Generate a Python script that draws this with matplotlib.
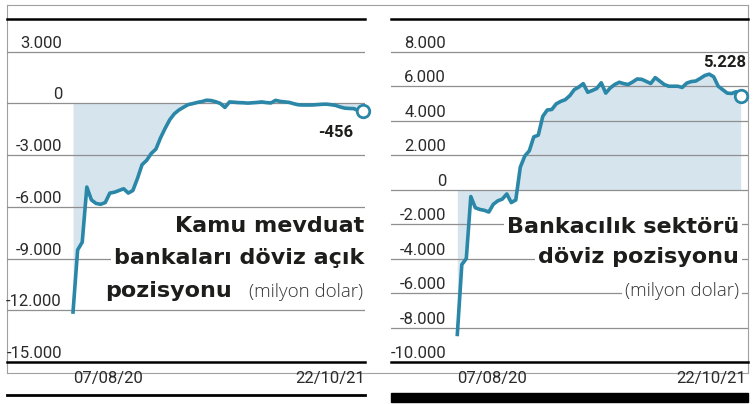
import pandas as pd
import matplotlib
matplotlib.use("Agg")
from matplotlib import pyplot as plt
from matplotlib.lines import Line2D
from matplotlib.patches import Rectangle
import matplotlib.transforms as mtransforms

# weekly data, 07/08/2020 - 22/10/2021 (milyon dolar)
dates = pd.date_range("2020-08-07", "2021-10-22", freq="7D")

kamu = [-12100, -8500, -8050, -4850, -5600, -5800, -5850, -5750, -5200, -5150,
        -5050, -4950, -5200, -5050, -4350, -3550, -3300, -2900, -2650, -2000,
        -1450, -950, -600, -380, -220, -70, -10, 60, 110, 190,
        170, 100, 0, -230, 90, 70, 50, 40, 20, 40,
        60, 90, 50, 30, 180, 120, 90, 60, -20, -80,
        -90, -90, -90, -70, -50, -40, -70, -110, -200, -270,
        -290, -300, -420, -456]

sektor = [-8400, -4350, -4000, -400, -1050, -1150, -1200, -1300, -850, -650,
          -550, -250, -750, -600, 1300, 1950, 2250, 3060, 3160, 4250,
          4620, 4650, 4980, 5120, 5220, 5450, 5800, 5950, 6150, 5650,
          5750, 5870, 6200, 5600, 5900, 6100, 6230, 6150, 6100, 6250,
          6420, 6400, 6280, 6160, 6500, 6300, 6100, 6000, 6000, 6000,
          5930, 6180, 6270, 6300, 6450, 6620, 6700, 6550, 6000, 5800,
          5600, 5580, 5680, 5430]

kamu_ticks = [3000, 0, -3000, -6000, -9000, -12000, -15000]
kamu_ticklabels = ["3.000", "0", "-3.000", "-6.000", "-9.000", "-12.000", "-15.000"]
sektor_ticks = [8000, 6000, 4000, 2000, 0, -2000, -4000, -6000, -8000, -10000]
sektor_ticklabels = ["8.000", "6.000", "4.000", "2.000", "0", "-2.000", "-4.000",
                     "-6.000", "-8.000", "-10.000"]
date_labels = ["07/08/20", "22/10/21"]

LINE = "#2a87a8"
FILL = "#d6e4ee"
GRID = "#8f8f8f"
FRAME = "#a0a0a0"
TXT = "#1d1d1b"

W, H = 754, 404
fig = plt.figure(figsize=(W / 100, H / 100), dpi=100)


def fx(px):
    return px / W


def fy(py):
    return 1 - py / H


def panel(left, right, ymin, ymax, x_lo, x_hi, vals, ticks, ticklabels, lab_x, end_off):
    ax = fig.add_axes([fx(left), fy(362), (right - left) / W, (362 - 19) / H])
    ax.set_ylim(ymin, ymax)
    ax.set_xlim(dates[0] - pd.Timedelta(days=x_lo), dates[-1] + pd.Timedelta(days=x_hi))
    ax.axis("off")
    for t in ticks[:-1]:
        ax.axhline(t, color=GRID, lw=0.9, zorder=1)
    ax.axhline(ticks[-1], color="black", lw=1.8, zorder=4, clip_on=False)
    ax.axhline(ymax, color="black", lw=1.8, zorder=4, clip_on=False)
    ax.fill_between(dates, vals, 0, color=FILL, lw=0, zorder=0)
    ax.plot(dates, vals, color=LINE, lw=2.6, solid_joinstyle="round", zorder=3)
    ax.plot(dates[-1:], vals[-1:], "o", ms=9, mfc="white", mec=LINE, mew=2, zorder=5, clip_on=False)
    up = mtransforms.ScaledTranslation(0, 4 / 100, fig.dpi_scale_trans)
    tr = mtransforms.blended_transform_factory(fig.transFigure, ax.transData) + up
    for t, l in zip(ticks, ticklabels):
        ax.text(fx(lab_x), t, l, transform=tr, ha="right", va="baseline",
                fontsize=12, family="Roboto", color="#2b2b2b", zorder=6)
    trd = mtransforms.blended_transform_factory(ax.transData, fig.transFigure)
    ax.text(dates[0], fy(382.5), date_labels[0], transform=trd, ha="left", va="baseline",
            fontsize=12, family="Roboto", color="#2b2b2b")
    sh = mtransforms.ScaledTranslation(end_off / 100, 0, fig.dpi_scale_trans)
    ax.text(dates[-1], fy(382.5), date_labels[1], transform=trd + sh, ha="right", va="baseline",
            fontsize=12, family="Roboto", color="#2b2b2b")
    return ax


ax1 = panel(7, 365, -15000, 4900, 100.4, 3, kamu, kamu_ticks, kamu_ticklabels, 62, 2)
ax2 = panel(391, 748, -10000, 9900, 103.2, 11.4, sektor, sektor_ticks, sektor_ticklabels, 446, 5)

# gray frame
for xs, ys in [([7, 748], [5, 5]), ([7, 748], [373, 373]), ([7, 7], [5, 373]), ([748, 748], [5, 373])]:
    fig.add_artist(Line2D([fx(x) for x in xs], [fy(y) for y in ys], color=FRAME, lw=0.8,
                          transform=fig.transFigure, zorder=0))
# bottom bars
fig.add_artist(Line2D([fx(7), fx(365)], [fy(394.5), fy(394.5)], color="black", lw=2,
                      transform=fig.transFigure))
fig.add_artist(Rectangle((fx(391), fy(402)), (748 - 391) / W, 9 / H, color="black",
                         transform=fig.transFigure))

box = dict(facecolor="white", edgecolor="none", pad=2)
big = dict(fontsize=16, fontweight="bold", family="DejaVu Sans", color=TXT, va="baseline",
           ha="right", bbox=box, zorder=10)
small = dict(fontsize=13.5, fontweight="light", family="Open Sans", color="#333333",
             va="baseline", ha="right", bbox=box, zorder=10)

fig.text(fx(364), fy(231.7), "Kamu mevduat", **big)
fig.text(fx(364), fy(264.3), "bankaları döviz açık", **big)
fig.text(fx(232), fy(296.7), "pozisyonu", **big)
fig.text(fx(363), fy(296.7), "(milyon dolar)", **small)

fig.text(fx(739), fy(233.3), "Bankacılık sektörü", **big)
fig.text(fx(739), fy(263.3), "döviz pozisyonu", **big)
fig.text(fx(739), fy(296), "(milyon dolar)", **small)

fig.text(fx(336), fy(137), "-456", fontsize=12, fontweight="bold", family="Roboto",
         color=TXT, ha="center", va="baseline")
fig.text(fx(746), fy(67), "5.228", fontsize=12, fontweight="bold", family="Roboto",
         color=TXT, ha="right", va="baseline")

fig.savefig("out.png", dpi=100)
